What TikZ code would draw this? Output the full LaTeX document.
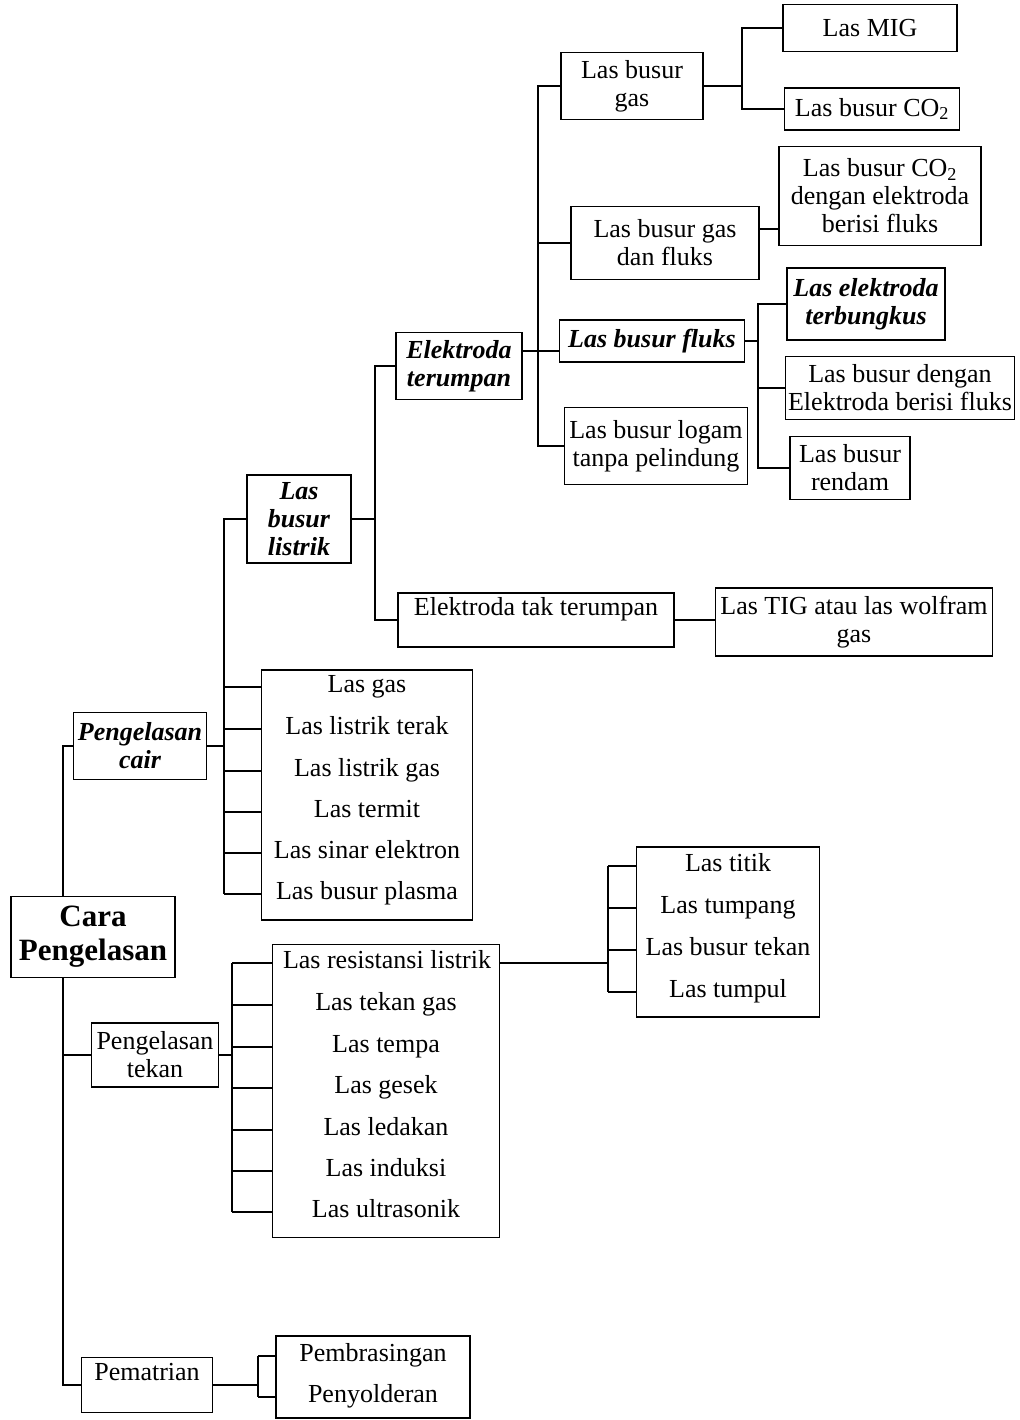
\documentclass[tikz,border=0pt]{standalone}
\usepackage{fontspec}
\setmainfont{Liberation Serif}

\begin{document}
\begin{tikzpicture}[
    x=1pt, y=-1pt,
    box/.style={rectangle, draw, line width=1.4pt, inner sep=1pt, align=center, font=\fontsize{26}{28}\selectfont},
    key/.style={box, font=\fontsize{26}{28}\selectfont\bfseries\itshape},
    item/.style={inner sep=0pt, text height=17pt, text depth=6pt, font=\fontsize{26}{28}\selectfont},
    raised/.style={text height=17pt, text depth=26pt},
    link/.style={line width=1.4pt}
]
\useasboundingbox (0,0) rectangle (1019,1420);

% Root and first level
\node[box, minimum width=164pt, minimum height=81pt, font=\fontsize{31}{34}\selectfont\bfseries] (cara) at (93,937) {Cara\\Pengelasan};
\node[key, minimum width=133pt, minimum height=67pt] (cair) at (140,746) {Pengelasan\\cair};
\node[box, minimum width=127pt, minimum height=64pt] (tekan) at (155,1055) {Pengelasan\\tekan};
\node[box, raised, minimum width=131pt, minimum height=55pt] (patri) at (147,1385) {Pematrian};

% Pengelasan cair
\node[key, minimum width=104pt, minimum height=88pt] (listrik) at (299,519) {Las\\busur\\listrik};
\node[box, minimum width=211pt, minimum height=250pt] (cairbox) at (367,795) {};
\node[item] (gas) at (367,687) {Las gas};
\node[item] (terak) at (367,729) {Las listrik terak};
\node[item] (lgas) at (367,771) {Las listrik gas};
\node[item] (termit) at (367,812) {Las termit};
\node[item] (sinar) at (367,853) {Las sinar elektron};
\node[item] (plasma) at (367,894) {Las busur plasma};

% Las busur listrik
\node[key, minimum width=126pt, minimum height=67pt] (terumpan) at (459,366) {Elektroda\\terumpan};
\node[box, raised, minimum width=276pt, minimum height=54pt] (takterumpan) at (536,620) {Elektroda tak terumpan};
\node[box, minimum width=277pt, minimum height=68pt] (tig) at (854,622) {Las TIG atau las wolfram\\gas};

% Elektroda terumpan
\node[box, minimum width=142pt, minimum height=67pt] (bgas) at (632,86) {Las busur\\gas};
\node[box, minimum width=188pt, minimum height=73pt] (bgasfl) at (665,243) {Las busur gas\\dan fluks};
\node[key, minimum width=185pt, minimum height=42pt] (bfluks) at (652,341) {Las busur fluks};
\node[box, minimum width=183pt, minimum height=77pt] (logam) at (656,446) {Las busur logam\\tanpa pelindung};

% Right column
\node[box, minimum width=174pt, minimum height=47pt] (mig) at (870,28) {Las MIG};
\node[box, minimum width=175pt, minimum height=42pt] (co2) at (872,109) {Las busur CO\textsubscript{2}};
\node[box, minimum width=202pt, minimum height=99pt] (co2fl) at (880,196) {Las busur CO\textsubscript{2}\\dengan elektroda\\berisi fluks};
\node[key, minimum width=158pt, minimum height=72pt] (bungkus) at (866,304) {Las elektroda\\terbungkus};
\node[box, minimum width=229pt, minimum height=63pt] (dgnfl) at (900,388) {Las busur dengan\\Elektroda berisi fluks};
\node[box, minimum width=120pt, minimum height=63pt] (rendam) at (850,468) {Las busur\\rendam};

% Pengelasan tekan
\node[box, minimum width=227pt, minimum height=293pt] (tekanbox) at (386,1091) {};
\node[item] (res) at (387,963) {Las resistansi listrik};
\node[item] (tgas) at (386,1005) {Las tekan gas};
\node[item] (tempa) at (386,1047) {Las tempa};
\node[item] (gesek) at (386,1088) {Las gesek};
\node[item] (ledak) at (386,1130) {Las ledakan};
\node[item] (induksi) at (386,1171) {Las induksi};
\node[item] (ultra) at (386,1212) {Las ultrasonik};

\node[box, minimum width=183pt, minimum height=170pt] (titikbox) at (728,932) {};
\node[item] (titik) at (728,866) {Las titik};
\node[item] (tumpang) at (728,908) {Las tumpang};
\node[item] (btekan) at (728,950) {Las busur tekan};
\node[item] (tumpul) at (728,992) {Las tumpul};

% Pematrian
\node[box, minimum width=194pt, minimum height=82pt] (patribox) at (373,1377) {};
\node[item] (brasing) at (373,1356) {Pembrasingan};
\node[item] (solder) at (373,1397) {Penyolderan};

% Spines
\coordinate (s0) at (63,0);
\coordinate (s1) at (224,0);
\coordinate (s2) at (375,0);
\coordinate (s3) at (538,0);
\coordinate (s4) at (742,0);
\coordinate (s5) at (758,0);
\coordinate (s6) at (232,0);
\coordinate (s7) at (608,0);
\coordinate (s8) at (258,0);

% Root
\draw[link] (cair.west) -| (s0 |- cara.north);
\draw[link] (s0 |- cara.south) |- (patri.west);
\draw[link] (s0 |- tekan.west) -- (tekan.west);

% Pengelasan cair
\draw[link] (cair.east) -- (s1 |- cair.east);
\draw[link] (listrik.west) -| (s1 |- plasma);
\foreach \n in {gas, terak, lgas, termit, sinar, plasma}
  \draw[link] (s1 |- \n) -- (cairbox.west |- \n);

% Las busur listrik
\draw[link] (listrik.east) -- (s2 |- listrik.east);
\draw[link] (terumpan.west) -| (s2 |- takterumpan.west) -- (takterumpan.west);
\draw[link] (takterumpan.east) -- (takterumpan.east -| tig.west);

% Elektroda terumpan
\draw[link] (bgas.west) -| (s3 |- logam.west) -- (logam.west);
\draw[link] (s3 |- bgasfl.west) -- (bgasfl.west);
\draw[link] ([yshift=-10pt]bfluks.west) -- ([yshift=-10pt]bfluks.west -| terumpan.east);

% Las busur gas
\draw[link] (bgas.east) -- (s4 |- bgas.east);
\draw[link] (mig.west) -| (s4 |- co2.west) -- (co2.west);
\draw[link] ([yshift=14pt]bgasfl.east) -- ([yshift=14pt]bgasfl.east -| co2fl.west);

% Las busur fluks
\draw[link] (bfluks.east) -- (s5 |- bfluks.east);
\draw[link] (bungkus.west) -| (s5 |- rendam.west) -- (rendam.west);
\draw[link] (s5 |- dgnfl.west) -- (dgnfl.west);

% Pengelasan tekan
\draw[link] (tekan.east) -- (s6 |- tekan.east);
\draw[link] (s6 |- res) -- (s6 |- ultra);
\foreach \n in {res, tgas, tempa, gesek, ledak, induksi, ultra}
  \draw[link] (s6 |- \n) -- (tekanbox.west |- \n);

% Las resistansi listrik
\draw[link] (tekanbox.east |- res) -- (s7 |- res);
\draw[link] (s7 |- titik) -- (s7 |- tumpul);
\foreach \n in {titik, tumpang, btekan, tumpul}
  \draw[link] (s7 |- \n) -- (titikbox.west |- \n);

% Pematrian
\draw[link] (patri.east) -- (s8 |- patri.east);
\draw[link] (s8 |- brasing) -- (s8 |- solder);
\foreach \n in {brasing, solder}
  \draw[link] (s8 |- \n) -- (patribox.west |- \n);

\end{tikzpicture}
\end{document}
